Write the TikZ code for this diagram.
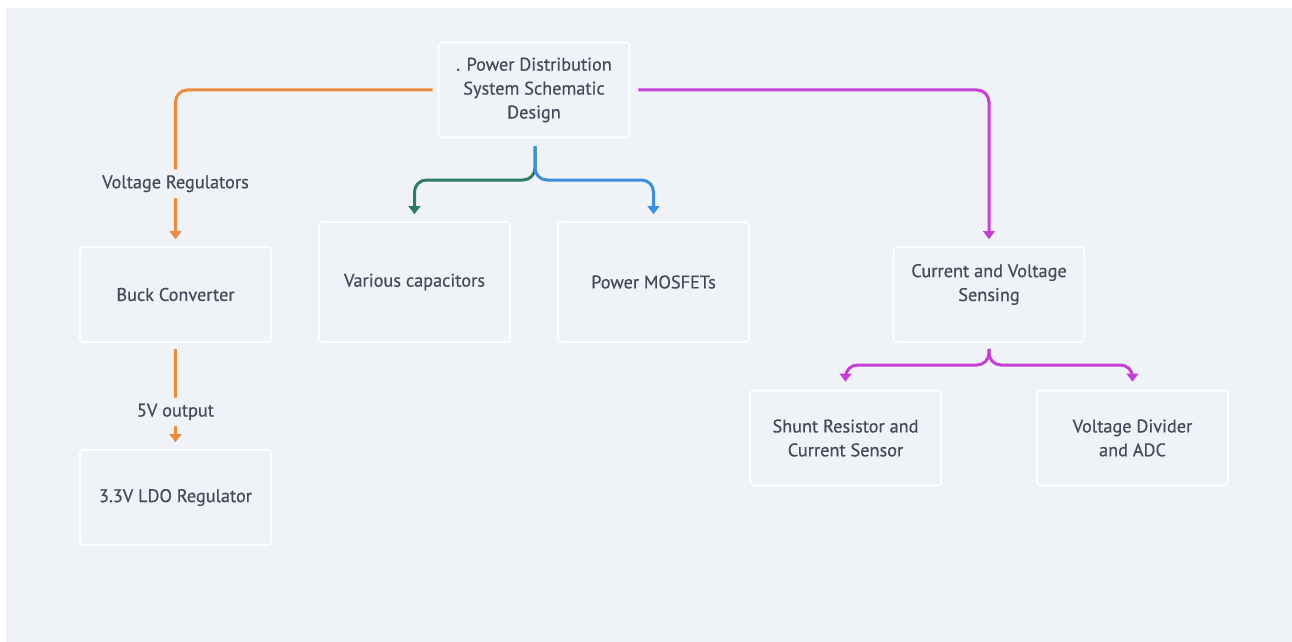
\documentclass[tikz,border=0pt]{standalone}
\usepackage{fontspec}
\setmainfont{PT Sans}[FakeBold=0.5]
\usetikzlibrary{arrows.meta}
\definecolor{bgcol}{HTML}{EFF2F6}
\definecolor{txtcol}{HTML}{434B5A}
\definecolor{regorange}{HTML}{EC8A3B}
\definecolor{capgreen}{HTML}{2E7B62}
\definecolor{fetblue}{HTML}{3A8EDE}
\definecolor{senspink}{HTML}{C63FD4}
\begin{document}
\begin{tikzpicture}[x=0.25mm, y=-0.25mm,
  every node/.style={font=\fontsize{13}{17}\selectfont, text=txtcol},
  block/.style={draw=white, line width=0.4mm, fill=bgcol, rounded corners=0.8mm, align=center, minimum width=47.75mm, minimum height=23.75mm},
  link/.style={line width=0.75mm, rounded corners=3mm, -{Triangle[length=2mm, width=2.9mm]}},
  tag/.style={fill=bgcol, inner sep=1.5mm}]
\useasboundingbox (0,0) rectangle (1292,642);
\fill[bgcol] (6,8) rectangle (1292,642);
% top
\node[block] (root) at (534,90) {. Power Distribution\\System Schematic\\Design};
% voltage regulators
\node[block] (buck) at (175.5,294.5) {Buck Converter};
\node[block] (ldo) at (175.5,497.5) {3.3V LDO Regulator};
\draw[link, regorange, shorten <=1.25mm, shorten >=1.75mm] (root.west) -| (buck.north) node[tag, pos=0.80] {Voltage Regulators};
\draw[link, regorange, shorten <=1.5mm, shorten >=1.75mm] (buck.south) -- (ldo.north) node[tag, pos=0.65] {5V output};
% parts
\node[block, minimum height=30mm] (caps) at (414.5,282) {Various capacitors};
\node[block, minimum height=30mm] (fets) at (653.5,282) {Power MOSFETs};
\coordinate (rsplit) at (535,180);
\draw[link, capgreen, shorten <=2mm, shorten >=1.75mm] (root.south -| rsplit) -- (rsplit) -| (caps.north);
\draw[link, fetblue, shorten <=2mm, shorten >=1.75mm] (root.south -| rsplit) -- (rsplit) -| (fets.north);
% sensing
\node[block] (sense) at (989,294.5) {Current and Voltage\\Sensing\\\mbox{}};
\node[block] (shunt) at (845.5,438) {Shunt Resistor and\\Current Sensor};
\node[block] (divider) at (1132.5,438) {Voltage Divider\\and ADC};
\draw[link, senspink, shorten <=2mm, shorten >=1.75mm] (root.east) -| (sense.north);
\coordinate (ssplit) at (989,365);
\draw[link, senspink, shorten <=1.5mm, shorten >=2mm] (sense.south) -- (ssplit) -| (shunt.north);
\draw[link, senspink, shorten <=1.5mm, shorten >=2mm] (sense.south) -- (ssplit) -| (divider.north);
\end{tikzpicture}
\end{document}
